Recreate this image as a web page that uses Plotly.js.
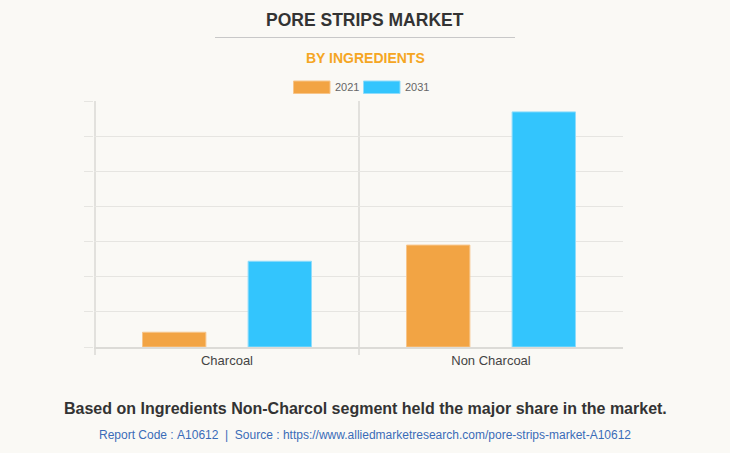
<!DOCTYPE html>
<html>
<head>
<meta charset="utf-8">
<script src="https://cdn.plot.ly/plotly-3.0.1.min.js"></script>
<style>
html,body{margin:0;padding:0;background:#faf9f5;}
#chart{width:730px;height:453px;}
</style>
</head>
<body>
<div id="chart"></div>
<script>
const categories = ["Charcoal", "Non Charcoal"];
const seriesNames = ["2021", "2031"];
const values2021 = [0.42, 2.9];
const values2031 = [2.44, 6.69];
const colors = ["#f2a444", "#33c5fd"];
const titleText = "PORE STRIPS MARKET";
const subtitleText = "BY INGREDIENTS";
const footText = "Based on Ingredients Non-Charcol segment held the major share in the market.";
const sourceText = "Report Code : A10612  |  Source : https://www.alliedmarketresearch.com/pore-strips-market-A10612";

const traces = [values2021, values2031].map((v, i) => ({
  type: "bar",
  name: seriesNames[i],
  x: categories,
  y: v,
  marker: {color: colors[i], line: {color: i === 0 ? "#f7c58a" : "#8fdcfb", width: 1}},
  hoverinfo: "x+y+name",
  showlegend: false
}));

const W = 730, H = 453;
const ml = 94, mr = 107, mt = 101, mb = 106;
const pw = W - ml - mr, ph = H - mt - mb;
function px(x){ return (x - ml) / pw; }
function py(y){ return (H - mb - y) / ph; }

const shapes = [
  {type:"line", xref:"x", yref:"paper", x0:-0.5, x1:-0.5, y0:py(355), y1:1, line:{color:"#e2e1dd", width:2}, layer:"below"},
  {type:"line", xref:"x", yref:"paper", x0:0.5, x1:0.5, y0:py(355), y1:1, line:{color:"#e2e1dd", width:2}, layer:"below"},
  {type:"line", xref:"paper", yref:"paper", x0:px(215), x1:px(515), y0:py(37.5), y1:py(37.5), line:{color:"#c8c8c8", width:1}},
  {type:"rect", xref:"paper", yref:"paper", x0:px(293.5), x1:px(330), y0:py(93.5), y1:py(81), fillcolor:colors[0], line:{color:"#f7c58a", width:1}},
  {type:"rect", xref:"paper", yref:"paper", x0:px(363.5), x1:px(400), y0:py(93.5), y1:py(81), fillcolor:colors[1], line:{color:"#8fdcfb", width:1}}
];

const annotations = [
  {text:"<b>" + titleText + "</b>", xref:"paper", yref:"paper", x:px(365), y:py(20), xanchor:"center", yanchor:"middle", showarrow:false,
   font:{family:"Arial, Liberation Sans, sans-serif", size:17.5, color:"#333333"}},
  {text:"<b>" + subtitleText + "</b>", xref:"paper", yref:"paper", x:px(365), y:py(58), xanchor:"center", yanchor:"middle", showarrow:false,
   font:{family:"Arial, Liberation Sans, sans-serif", size:14, color:"#f5a623"}},
  {text:seriesNames[0], xref:"paper", yref:"paper", x:px(333), y:py(87), xanchor:"left", yanchor:"middle", showarrow:false,
   font:{family:"Arial, Liberation Sans, sans-serif", size:11, color:"#666666"}},
  {text:seriesNames[1], xref:"paper", yref:"paper", x:px(403), y:py(87), xanchor:"left", yanchor:"middle", showarrow:false,
   font:{family:"Arial, Liberation Sans, sans-serif", size:11, color:"#666666"}},
  {text:"<b>" + footText + "</b>", xref:"paper", yref:"paper", x:px(365), y:py(408), xanchor:"center", yanchor:"middle", showarrow:false,
   font:{family:"Arial, Liberation Sans, sans-serif", size:16, color:"#333333"}},
  {text:sourceText.replace(/ /g, "&nbsp;"), xref:"paper", yref:"paper", x:px(365), y:py(435), xanchor:"center", yanchor:"middle", showarrow:false,
   font:{family:"Arial, Liberation Sans, sans-serif", size:12, color:"#3a6cb8"}}
];

const layout = {
  width: W, height: H,
  margin: {l: ml, r: mr, t: mt, b: mb, pad: 0},
  paper_bgcolor: "#faf9f5",
  plot_bgcolor: "#faf9f5",
  barmode: "group",
  bargap: 0.2,
  bargroupgap: 0.4,
  showlegend: false,
  font: {family: "Arial, Liberation Sans, sans-serif", color: "#444"},
  xaxis: {
    type: "category",
    showgrid: false,
    zeroline: false,
    showline: true,
    linecolor: "#dcdbd7",
    linewidth: 2,
    ticks: "",
    tickfont: {size: 13, color: "#444444"},
    fixedrange: true
  },
  yaxis: {
    range: [0, 7],
    dtick: 1,
    tick0: 0,
    showticklabels: false,
    showgrid: true,
    gridcolor: "#e6e5e1",
    gridwidth: 1,
    zeroline: false,
    ticks: "outside",
    ticklen: 9,
    tickcolor: "#e6e5e1",
    showline: false,
    fixedrange: true
  },
  shapes: shapes,
  annotations: annotations
};

Plotly.newPlot("chart", traces, layout, {displayModeBar: false, staticPlot: true});
</script>
</body>
</html>
